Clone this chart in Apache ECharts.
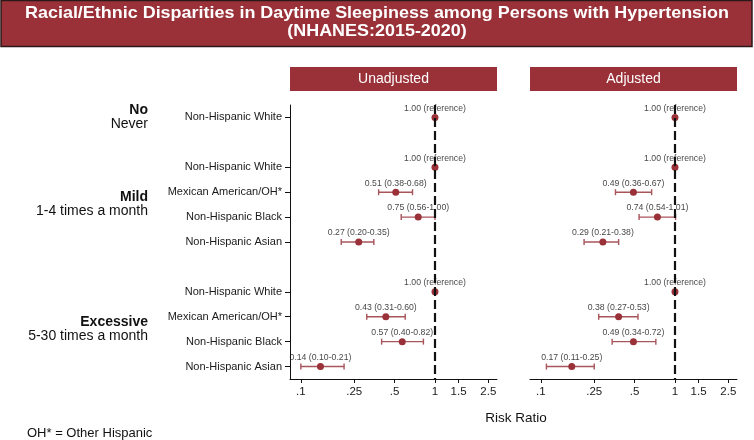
<!DOCTYPE html>
<html>
<head>
<meta charset="utf-8">
<script src="https://cdn.jsdelivr.net/npm/echarts@6/dist/echarts.min.js"></script>
<style>
  html, body { margin: 0; padding: 0; background: #fff; }
  #container { width: 754px; height: 440px; }
</style>
</head>
<body>
<div id="container"></div>
<script>
    // rows (top to bottom), blank strings are spacer rows between the groups
    var rowLabels = ['Non-Hispanic White', '', 'Non-Hispanic White', 'Mexican American/OH*', 'Non-Hispanic Black', 'Non-Hispanic Asian',
        '', 'Non-Hispanic White', 'Mexican American/OH*', 'Non-Hispanic Black', 'Non-Hispanic Asian'];
    var groupNames = ['No', 'Mild', 'Excessive'];
    var groupDesc = ['Never', '1-4 times a month', '5-30 times a month'];
    var groupRows = [[0, 0], [2, 5], [7, 10]];
    var panelNames = ['Unadjusted', 'Adjusted'];
    var titleLines = ['Racial/Ethnic Disparities in Daytime Sleepiness among Persons with Hypertension', '(NHANES:2015-2020)'];

    var unadjRR   = [1, null, 1, 0.51, 0.75, 0.27, null, 1, 0.43, 0.57, 0.14];
    var unadjLow  = [null, null, null, 0.38, 0.56, 0.20, null, null, 0.31, 0.40, 0.10];
    var unadjHigh = [null, null, null, 0.68, 1.00, 0.35, null, null, 0.60, 0.82, 0.21];
    var adjRR     = [1, null, 1, 0.49, 0.74, 0.29, null, 1, 0.38, 0.49, 0.17];
    var adjLow    = [null, null, null, 0.36, 0.54, 0.21, null, null, 0.27, 0.34, 0.11];
    var adjHigh   = [null, null, null, 0.67, 1.01, 0.38, null, null, 0.53, 0.72, 0.25];

    var xTicks = [0.1, 0.25, 0.5, 1, 1.5, 2.5];
    var xTickLabels = ['.1', '.25', '.5', '1', '1.5', '2.5'];

    var red = '#9a3038';
    var barRed = '#a7545b';
    var fontFam = '"Liberation Sans", Arial, Helvetica, sans-serif';
    var gridTop = 105, gridH = 274, gridW = 207;
    var gridLefts = [290, 530];
    var rowH = gridH / rowLabels.length;

    function lg(v) { return Math.log10(v); }
    function ciText(rr, lo, hi) {
        if (lo == null) return rr.toFixed(2) + ' (reference)';
        return rr.toFixed(2) + ' (' + lo.toFixed(2) + '-' + hi.toFixed(2) + ')';
    }

    var panels = [
        { rr: unadjRR, lo: unadjLow, hi: unadjHigh },
        { rr: adjRR, lo: adjLow, hi: adjHigh }
    ];

    var grids = [], xAxes = [], yAxes = [], series = [];
    panels.forEach(function (p, g) {
        grids.push({ left: gridLefts[g], top: gridTop, width: gridW, height: gridH });
        xAxes.push({
            type: 'value', gridIndex: g,
            min: lg(0.083), max: lg(2.9),
            axisLine: { show: true, onZero: false, lineStyle: { color: '#111', width: 1 } },
            axisTick: { show: true, length: 4, customValues: xTicks.map(lg), lineStyle: { color: '#111' } },
            axisLabel: {
                customValues: xTicks.map(lg), fontSize: 11.5, color: '#1a1a1a', fontFamily: fontFam, margin: 7,
                formatter: function (v) {
                    for (var i = 0; i < xTicks.length; i++) {
                        if (Math.abs(lg(xTicks[i]) - v) < 1e-6) return xTickLabels[i];
                    }
                    return '';
                }
            },
            splitLine: { show: false }
        });
        yAxes.push({
            type: 'category', gridIndex: g, data: rowLabels, inverse: true,
            axisLine: { show: g === 0, onZero: false, lineStyle: { color: '#111', width: 1 } },
            axisTick: {
                show: g === 0, length: 5, alignWithLabel: true, lineStyle: { color: '#111' },
                interval: function (i, v) { return v !== ''; }
            },
            axisLabel: { show: g === 0, interval: 0, fontSize: 11, color: '#1a1a1a', fontFamily: fontFam, margin: 8 },
            splitLine: { show: false }
        });

        var pts = [], labs = [], bars = [];
        p.rr.forEach(function (v, i) {
            if (v == null) return;
            pts.push([lg(v), i]);
            labs.push([lg(v), i, ciText(v, p.lo[i], p.hi[i])]);
            if (p.lo[i] != null) bars.push([lg(p.lo[i]), lg(p.hi[i]), i]);
        });

        // text above each estimate
        series.push({
            type: 'scatter', xAxisIndex: g, yAxisIndex: g, z: 1, silent: true,
            symbolSize: 7, itemStyle: { color: 'rgba(0,0,0,0)' },
            label: {
                show: true, position: 'top', distance: 1, fontSize: 8.7, color: '#111', fontFamily: fontFam,
                formatter: function (prm) { return prm.value[2]; }
            },
            labelLayout: { hideOverlap: false },
            data: labs
        });
        // reference line at 1
        series.push({
            type: 'scatter', xAxisIndex: g, yAxisIndex: g, z: 2, silent: true,
            symbolSize: 0,
            data: [[lg(1), 0]],
            markLine: {
                silent: true, symbol: ['none', 'none'], label: { show: false },
                lineStyle: { color: '#111', width: 2.2, type: [9, 4] },
                data: [{ xAxis: lg(1) }]
            }
        });
        // confidence intervals
        series.push({
            type: 'custom', xAxisIndex: g, yAxisIndex: g, z: 3, silent: true,
            renderItem: function (params, api) {
                var a = api.coord([api.value(0), api.value(2)]);
                var b = api.coord([api.value(1), api.value(2)]);
                var st = { stroke: barRed, lineWidth: 1.4 };
                return {
                    type: 'group',
                    children: [
                        { type: 'line', shape: { x1: a[0], y1: a[1], x2: b[0], y2: b[1] }, style: st },
                        { type: 'line', shape: { x1: a[0], y1: a[1] - 3, x2: a[0], y2: a[1] + 3 }, style: st },
                        { type: 'line', shape: { x1: b[0], y1: b[1] - 3, x2: b[0], y2: b[1] + 3 }, style: st }
                    ]
                };
            },
            data: bars
        });
        // point estimates
        series.push({
            type: 'scatter', xAxisIndex: g, yAxisIndex: g, z: 4, silent: true,
            symbol: 'circle', symbolSize: 7, itemStyle: { color: red, opacity: 1 },
            data: pts
        });
    });

    // title width to match the condensed look of the original
    var ctx = document.createElement('canvas').getContext('2d');
    ctx.font = 'bold 17px ' + fontFam;
    var titleScale = 704 / ctx.measureText(titleLines[0]).width;

    var graphics = [
        { type: 'rect', shape: { x: 1, y: 0.5, width: 751, height: 46 }, style: { fill: red, stroke: '#2b1818', lineWidth: 1.5 } },
        { type: 'text', x: 377, y: 13, scaleX: titleScale, style: { text: titleLines[0], x: 0, y: 0, align: 'center', verticalAlign: 'middle', fill: '#fff', font: 'bold 17px ' + fontFam } },
        { type: 'text', x: 377, y: 31, scaleX: titleScale, style: { text: titleLines[1], x: 0, y: 0, align: 'center', verticalAlign: 'middle', fill: '#fff', font: 'bold 17px ' + fontFam } }
    ];
    panelNames.forEach(function (n, g) {
        graphics.push({ type: 'rect', shape: { x: gridLefts[g], y: 67, width: gridW, height: 24 }, style: { fill: red } });
        graphics.push({ type: 'text', style: { text: n, x: gridLefts[g] + gridW / 2, y: 79.5, align: 'center', verticalAlign: 'middle', fill: '#fff', font: '14px ' + fontFam } });
    });
    groupNames.forEach(function (n, k) {
        var cy = gridTop + rowH * ((groupRows[k][0] + groupRows[k][1]) / 2 + 0.5);
        graphics.push({ type: 'text', style: { text: n, x: 148, y: cy - 7.5, align: 'right', verticalAlign: 'middle', fill: '#111', font: 'bold 14px ' + fontFam } });
        graphics.push({ type: 'text', style: { text: groupDesc[k], x: 148, y: cy + 6.5, align: 'right', verticalAlign: 'middle', fill: '#111', font: '14px ' + fontFam } });
    });
    graphics.push({ type: 'text', style: { text: 'Risk Ratio', x: 516, y: 418, align: 'center', verticalAlign: 'middle', fill: '#111', font: '13.5px ' + fontFam } });
    graphics.push({ type: 'text', style: { text: 'OH* = Other Hispanic', x: 27, y: 433, align: 'left', verticalAlign: 'middle', fill: '#111', font: '13px ' + fontFam } });

    var option = {
        animation: false,
        backgroundColor: '#fff',
        grid: grids,
        xAxis: xAxes,
        yAxis: yAxes,
        series: series,
        graphic: graphics
    };
    var myChart = echarts.init(document.getElementById('container'));
    myChart.setOption(option);
</script>
</body>
</html>
